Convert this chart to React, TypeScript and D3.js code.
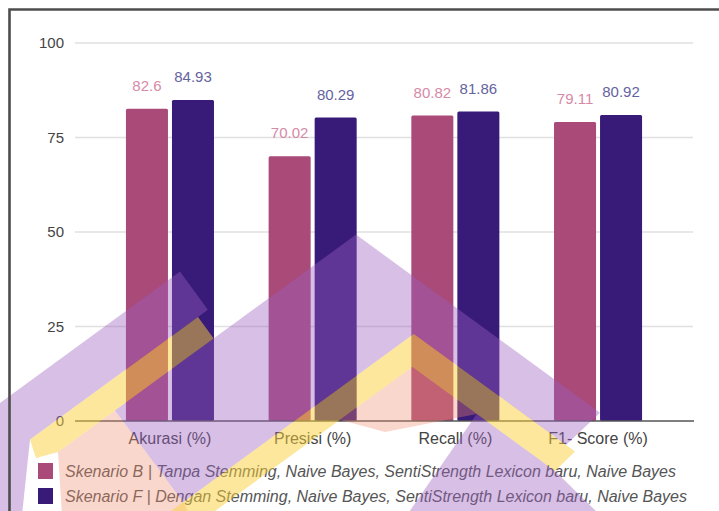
import React from 'react';
import * as d3 from 'd3';

// Chart data
const categories = ['Akurasi (%)', 'Presisi (%)', 'Recall (%)', 'F1- Score (%)'];
const seriesKeys = ['B', 'F'];
const seriesNames = [
  'Skenario B | Tanpa Stemming, Naive Bayes, SentiStrength Lexicon baru, Naive Bayes',
  'Skenario F | Dengan Stemming, Naive Bayes, SentiStrength Lexicon baru, Naive Bayes',
];
const skenarioB = [82.6, 70.02, 80.82, 79.11];
const skenarioF = [84.93, 80.29, 81.86, 80.92];
const yTicks = [0, 25, 50, 75, 100];

const barColors = ['#a94a79', '#381a79'];
const labelColors = ['#d68aa7', '#65639f'];

const W = 719;
const H = 511;
const FONT = "Arial, 'Liberation Sans', sans-serif";

// Background emblem overlay (semi-transparent chevron bands)
const LAV = { fill: '#9b5fc0', opacity: 0.4 };
const YEL = { fill: '#f9cf3a', opacity: 0.5 };
const PEACH = { fill: '#f28c6c', opacity: 0.35 };
const emblem = [
  { ...LAV, pts: [[-5, 406.6], [180, 271.6], [207.9, 309.7], [30, 439.6], [22, 515], [-5, 515]] },
  { ...YEL, pts: [[30, 439.6], [198, 317], [213.7, 338.5], [58, 452], [36, 458]] },
  { ...PEACH, pts: [[58, 452], [115, 410.5], [183.3, 502.2], [190, 515], [62, 515]] },
  { ...LAV, pts: [[115, 410.5], [356, 234.6], [600, 412.7], [566, 445], [413.8, 333.9], [183.3, 502.2]] },
  { ...YEL, pts: [[165.7, 515], [413.8, 333.9], [575, 451.5], [555, 471], [412.3, 367], [209.6, 515]] },
  { ...PEACH, pts: [[412.3, 367], [340, 419.8], [385, 432], [476.7, 414]] },
  { ...LAV, pts: [[407, 515], [476.7, 414], [555, 471], [600, 515]] },
];

export default function App() {
  const x0 = d3.scaleBand<string>().domain(categories).range([75, 693]).paddingInner(0.383).paddingOuter(0.357);
  const x1 = d3.scaleBand<string>().domain(seriesKeys).range([0, x0.bandwidth()]).paddingInner(0.087);
  const y = d3.scaleLinear().domain([0, 100]).range([421, 43]);
  const series = [skenarioB, skenarioF];

  return (
    <svg
      width={W}
      height={H}
      viewBox={`0 0 ${W} ${H}`}
      style={{ position: 'absolute', left: 0, top: 0, background: '#fff' }}
      fontFamily={FONT}
    >
      <rect x={0} y={0} width={W} height={H} fill="#fff" />

      {/* gridlines and y tick labels */}
      {yTicks.map((t) => (
        <g key={t}>
          {t !== 0 && (
            <line x1={75} x2={693} y1={y(t)} y2={y(t)} stroke="#e0e0e0" strokeWidth={1.3} />
          )}
          <text x={64} y={y(t)} dy="0.35em" textAnchor="end" fontSize={15} fill="#444">
            {t}
          </text>
        </g>
      ))}

      {/* bars */}
      {categories.map((c, i) => (
        <g key={c} transform={`translate(${x0(c)},0)`}>
          {series.map((vals, s) => {
            const bx = x1(seriesKeys[s])!;
            const v = vals[i];
            return (
              <g key={s}>
                <rect
                  x={bx}
                  y={y(v)}
                  width={x1.bandwidth()}
                  height={y(0) - y(v)}
                  fill={barColors[s]}
                  rx={1.5}
                />
                <text
                  x={bx + x1.bandwidth() / 2}
                  y={y(v) - 18}
                  textAnchor="middle"
                  fontSize={15}
                  fill={labelColors[s]}
                >
                  {String(v)}
                </text>
              </g>
            );
          })}
        </g>
      ))}

      {/* x axis baseline */}
      <line x1={75} x2={694} y1={y(0)} y2={y(0)} stroke="#555" strokeWidth={1.6} />

      {/* category labels */}
      {categories.map((c) => (
        <text
          key={c}
          x={x0(c)! + x0.bandwidth() / 2}
          y={444}
          textAnchor="middle"
          fontSize={16}
          fill="#444"
        >
          {c}
        </text>
      ))}

      {/* legend */}
      {seriesNames.map((n, s) => (
        <g key={n} transform={`translate(38, ${463 + s * 25})`}>
          <rect x={0} y={0} width={15} height={16} fill={barColors[s]} />
          <text x={27} y={13.5} fontSize={16} fontStyle="italic" fill="#555">
            {n}
          </text>
        </g>
      ))}

      {/* emblem overlay */}
      <g style={{ pointerEvents: 'none' }}>
        {emblem.map((p, i) => (
          <polygon
            key={i}
            points={p.pts.map((q) => q.join(',')).join(' ')}
            fill={p.fill}
            fillOpacity={p.opacity}
          />
        ))}
      </g>

      {/* outer frame */}
      <path d={`M9.5 ${H} V9.5 H${W}`} fill="none" stroke="#4d4d4d" strokeWidth={2.6} />
    </svg>
  );
}
